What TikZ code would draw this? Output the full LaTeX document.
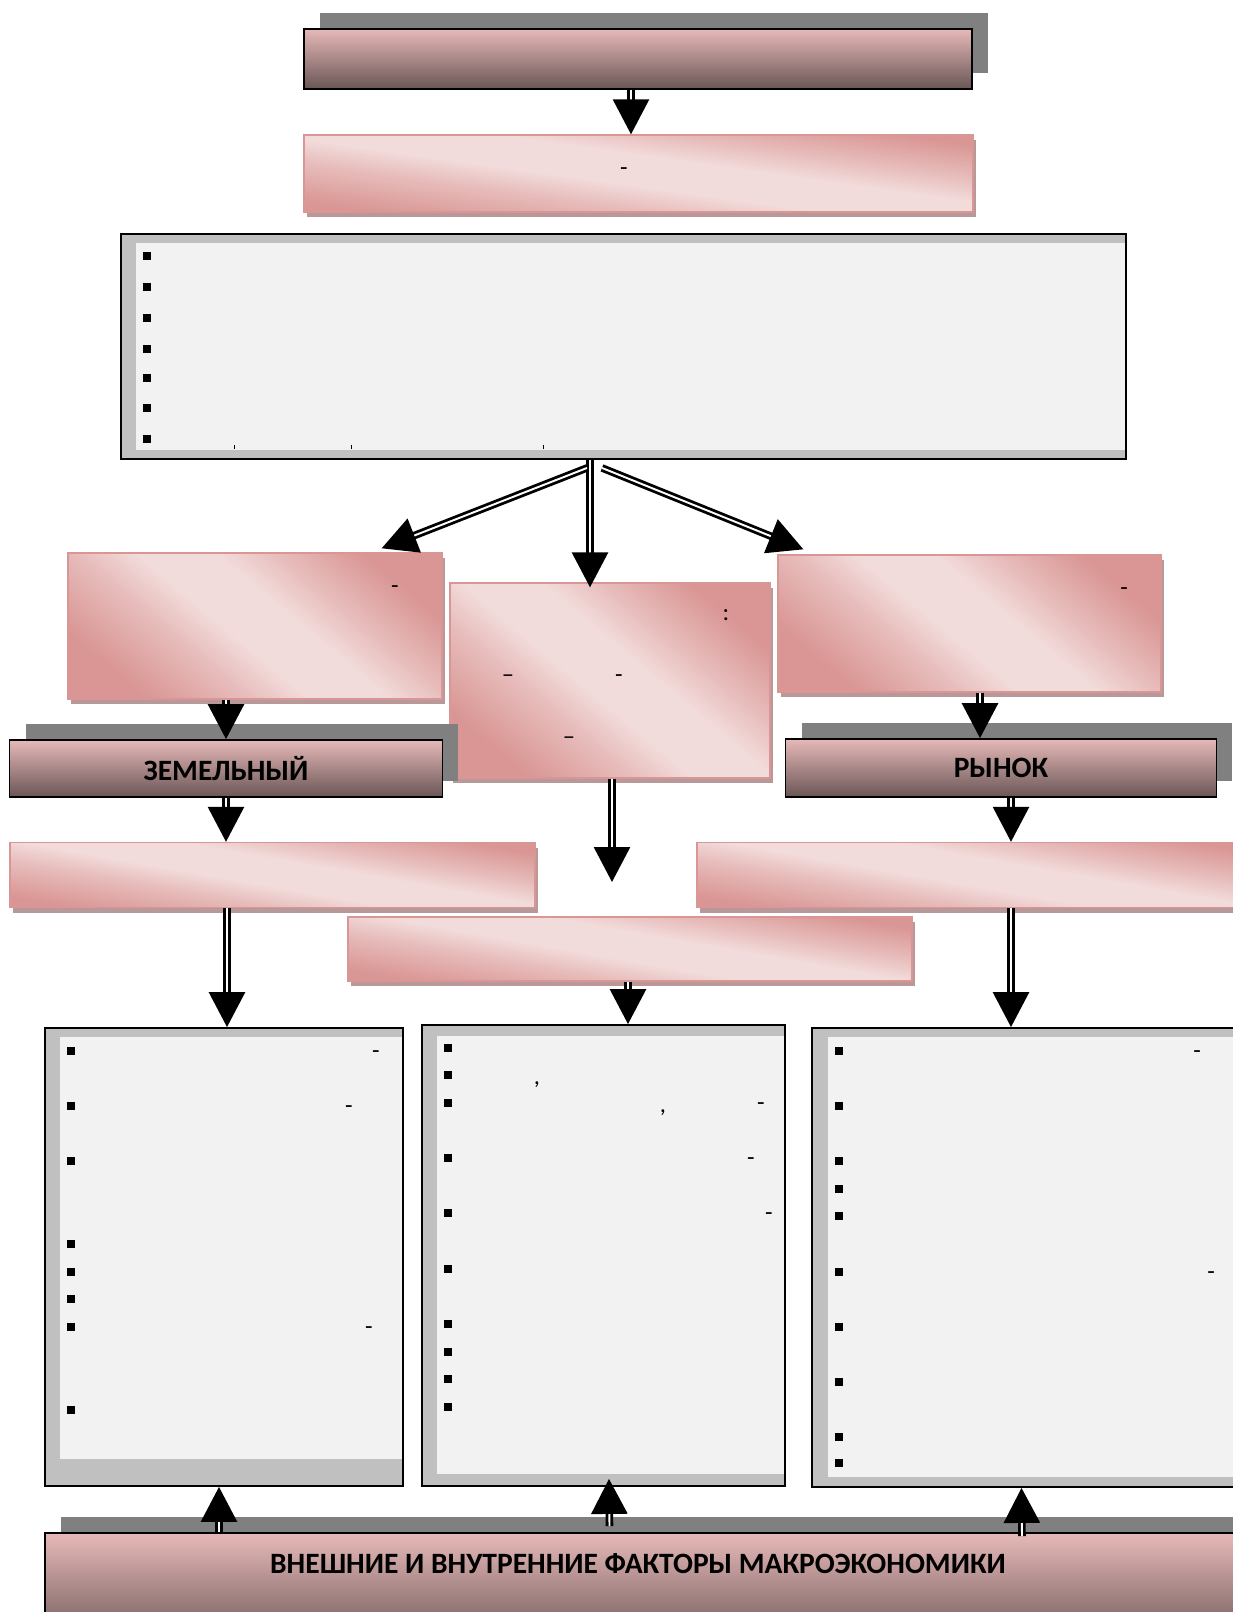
\documentclass[tikz,border=0pt]{standalone}
\usepackage{fontspec}
\setmainfont{Carlito}
\usepackage{xcolor}
\usepackage{tikz}
\usetikzlibrary{arrows.meta, calc, shadows}
\definecolor{rosetop}{HTML}{E6B9B8}
\definecolor{rosebot}{HTML}{6A5656}
\definecolor{rosedark}{HTML}{D99694}
\definecolor{roselight}{HTML}{F2DCDB}
\definecolor{roseshade}{HTML}{B89898}
\definecolor{shadegray}{HTML}{808080}
\definecolor{listframe}{HTML}{C0C0C0}
\definecolor{listface}{HTML}{F2F2F2}
\pgfdeclareverticalshading{rosewash}{100bp}{%
  color(0bp)=(rosedark); color(25bp)=(rosedark);
  color(38bp)=(rosedark!45!roselight); color(46bp)=(roselight);
  color(56bp)=(roselight); color(64bp)=(rosedark!45!roselight);
  color(75bp)=(rosedark); color(100bp)=(rosedark)}
\tikzset{
  headbox/.style={
    draw=black, line width=1pt, top color=rosetop, bottom color=rosebot,
    inner sep=0pt,
    drop shadow={shadow xshift=0.32cm, shadow yshift=0.32cm,
      fill=shadegray, opacity=1}
  },
  rosebox/.style={
    draw=rosedark, line width=0.8pt,
    shade, shading=rosewash, shading angle=-40, inner sep=0pt,
    drop shadow={shadow xshift=0.06cm, shadow yshift=-0.1cm,
      fill=roseshade, opacity=1}
  },
  listbox/.style={
    draw=black, line width=1.1pt, fill=listframe, inner sep=0pt
  },
  innerpane/.style={fill=listface},
  sqbullet/.style={fill=black, inner sep=0pt, minimum size=0.16cm},
  punct/.style={inner sep=0pt, font=\fontsize{14}{16}\selectfont},
  headlabel/.style={font=\bfseries\fontsize{16.8}{20}\selectfont},
  flowarrow/.style={
    line width=1.6pt, double=white, double distance=1.1pt,
    -{Triangle[length=0.7cm, width=0.72cm]}
  },
}

\begin{document}
\begin{tikzpicture}[x=0.02cm, y=-0.02cm]
  \fill[white] (0,0) rectangle (1233,1612);
  \useasboundingbox (0,0) rectangle (1233,1612);

  % Title
  \node[headbox, minimum width=13.36cm, minimum height=1.2cm]
    (title) at (638,59) {};

  % Definition
  \node[rosebox, shading angle=-8, minimum width=13.38cm, minimum height=1.54cm]
    (defn) at (638.5,173.5) {};
  \node[punct] (defnp) at (624,172) {-};

  % Features list
  \node[listbox, minimum width=20.1cm, minimum height=4.5cm]
    (traits) at (623.5,346.5) {};
  \fill[innerpane] ($(traits.north west)+(16,10)$)
    rectangle ($(traits.south east)+(-2,-10)$);
  \foreach \yy [count=\i] in {256,287,318,349,378,408,439}
    \node[sqbullet] (tb\i) at (147,\yy) {};
  \foreach \xx in {234,351,543}
    \draw[line width=0.5pt] (\xx,445) -- (\xx,448.5);

  % Three parts
  \node[rosebox, minimum width=7.48cm, minimum height=2.92cm]
    (lpart) at (255,626) {};
  \node[punct] (lpartp) at (395,590) {-};

  \node[rosebox, minimum width=6.4cm, minimum height=3.9cm]
    (cpart) at (610,680.5) {};
  \node[punct] (cpartc) at (726,615) {:};
  \node[punct] (cpartd1) at (508,679) {–};
  \node[punct] (cpartd2) at (619,679) {-};
  \node[punct] (cpartd3) at (569,741) {–};

  \node[rosebox, minimum width=7.66cm, minimum height=2.74cm]
    (rpart) at (969.5,623.5) {};
  \node[punct] (rpartp) at (1124,592) {-};

  % Market labels
  \node[headbox, headlabel, minimum width=8.66cm, minimum height=1.14cm]
    (land) at (226,768.5) {ЗЕМЕЛЬНЫЙ};
  \node[headbox, headlabel, minimum width=8.62cm, minimum height=1.16cm]
    (market) at (1001,768) {РЫНОК};

  % Second row
  \node[rosebox, shading angle=-10, minimum width=10.5cm, minimum height=1.3cm]
    (lrent) at (272.5,875) {};
  \node[rosebox, shading angle=-10, minimum width=11.26cm, minimum height=1.3cm]
    (rprice) at (978.5,875) {};
  \node[rosebox, shading angle=-10, minimum width=11.28cm, minimum height=1.28cm]
    (mfin) at (630,949) {};

  % Left list
  \node[listbox, minimum width=7.16cm, minimum height=9.16cm]
    (llist) at (224,1257) {};
  \fill[innerpane] ($(llist.north west)+(16,10)$)
    rectangle ($(llist.south east)+(-2,-28)$);
  \foreach \yy [count=\i] in {1051,1106,1161,1244,1272,1299,1327,1410}
    \node[sqbullet] (lb\i) at (71,\yy) {};
  \foreach \xx/\yy [count=\i] in {376/1055, 349/1110, 369/1331}
    \node[punct] (lh\i) at (\xx,\yy) {-};

  % Middle list
  \node[listbox, minimum width=7.26cm, minimum height=9.22cm]
    (mlist) at (603.5,1255.5) {};
  \fill[innerpane] ($(mlist.north west)+(16,12)$)
    rectangle ($(mlist.south east)+(-2,-13)$);
  \foreach \yy [count=\i] in {1048,1075,1103,1158,1213,1269,1324,1352,1379,1407}
    \node[sqbullet] (mb\i) at (448,\yy) {};
  \foreach \xx/\yy [count=\i] in {537/1085, 663/1113}
    \node[punct] (mc\i) at (\xx,\yy) {,};
  \foreach \xx/\yy [count=\i] in {761/1107, 751/1162, 769/1217}
    \node[punct] (mh\i) at (\xx,\yy) {-};

  % Right list
  \node[listbox, minimum width=8.96cm, minimum height=9.18cm]
    (rlist) at (1036,1257.5) {};
  \fill[innerpane] ($(rlist.north west)+(17,10)$)
    rectangle ($(rlist.south east)+(-2,-11)$);
  \foreach \yy [count=\i] in {1051,1106,1161,1189,1216,1272,1327,1382,1437,1463}
    \node[sqbullet] (rb\i) at (839,\yy) {};
  \foreach \xx/\yy [count=\i] in {1197/1055, 1211/1276}
    \node[punct] (rh\i) at (\xx,\yy) {-};

  % Factors
  \node[headbox, minimum width=24.3cm, minimum height=2.28cm]
    (factors) at (652.5,1590) {};
  \node[headlabel] (factorslbl) at (638,1564)
    {ВНЕШНИЕ И ВНУТРЕННИЕ ФАКТОРЫ МАКРОЭКОНОМИКИ};

  \coordinate (cend) at (612,882);

  % Arrows
  \draw[flowarrow] ($(title.south)+(-7,0)$) -- ($(defn.north)+(-7.5,0)$);
  \draw[flowarrow] ($(traits.south)+(-33.5,0)$) -- ($(cpart.north)+(-20,5)$);
  \draw[flowarrow] ($(traits.south)+(-36.5,8)$) -- ($(lpart.north east)+(-61,-4)$);
  \draw[flowarrow] ($(traits.south)+(-21.5,8)$) -- ($(rpart.north west)+(26,-5)$);
  \draw[flowarrow] (land.north |- lpart.south) -- (land.north);
  \draw[flowarrow] (rpart.south -| 980,0) -- (market.north -| 980,0);
  \draw[flowarrow] (cpart.south -| cend) -- (cend);
  \draw[flowarrow] (land.south) -- (land.south |- lrent.north);
  \draw[flowarrow] (market.south -| 1011,0) -- (rprice.north -| 1011,0);
  \draw[flowarrow] (lrent.south -| 227,0) -- (llist.north -| 227,0);
  \draw[flowarrow] (mfin.south -| 628,0) -- (mlist.north -| 628,0);
  \draw[flowarrow] (rprice.south -| 1011,0) -- (rlist.north -| 1011,0);
  \draw[flowarrow] (factors.north -| 219,0) -- (llist.south -| 219,0);
  \draw[flowarrow] ($(factors.north)+(-43,-6)$) -- ($(mlist.south)+(5.5,-8)$);
  \draw[flowarrow] ($(factors.north)+(369.5,4)$) -- (rlist.south -| 1021.5,0);
\end{tikzpicture}
\end{document}
